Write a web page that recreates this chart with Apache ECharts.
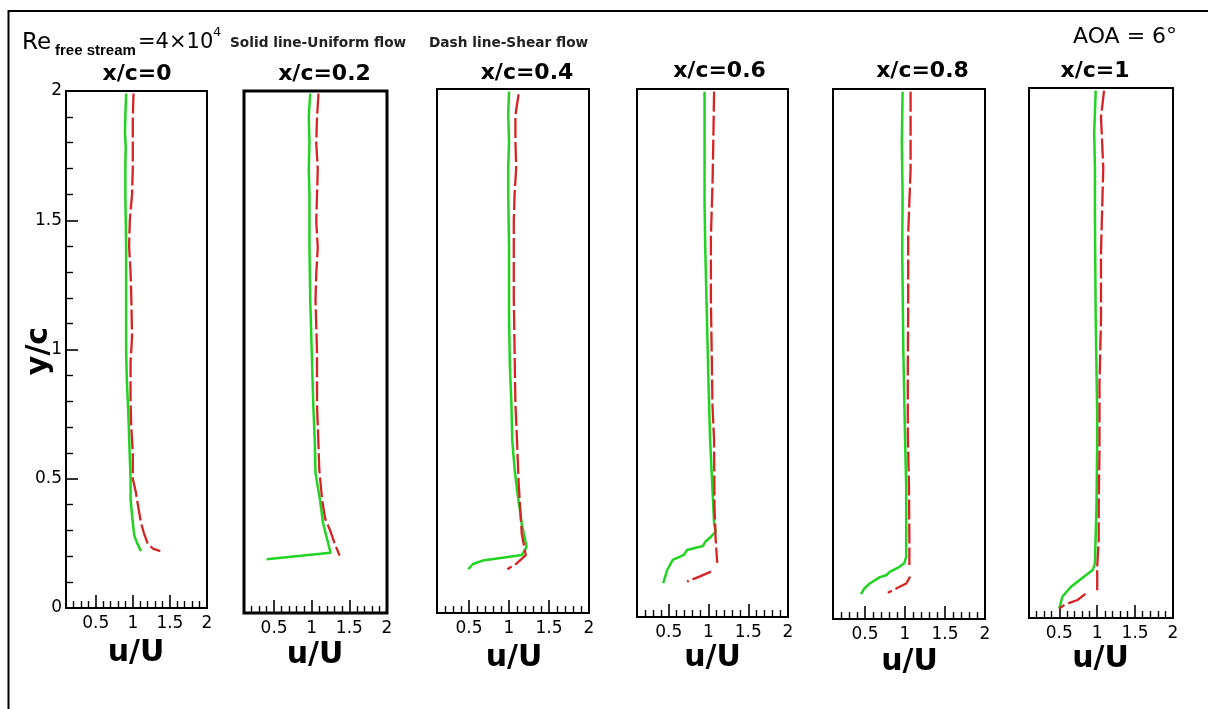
<!DOCTYPE html>
<html><head><meta charset="utf-8">
<script src="https://cdn.jsdelivr.net/npm/echarts@6/dist/echarts.min.js"></script>
<style>html,body{margin:0;padding:0;background:#fff}#c{width:1208px;height:709px}</style>
</head><body><div id="c"></div>
<script>
// ---------- data ----------
const panelTitles = ['x/c=0', 'x/c=0.2', 'x/c=0.4', 'x/c=0.6', 'x/c=0.8', 'x/c=1'];
const xMajorTicks = [0.5, 1, 1.5, 2];
const xMinorTicks = [0.2, 0.3, 0.4, 0.6, 0.7, 0.8, 0.9, 1.1, 1.2, 1.3, 1.4, 1.6, 1.7, 1.8, 1.9];

// [u/U, y/c]  solid line - uniform flow
const uniform0 = [[0.91,1.99],[0.90,1.90],[0.895,1.84],[0.905,1.78],[0.90,1.72],[0.90,1.6],[0.91,1.4],[0.91,1.2],[0.91,1.0],[0.92,0.88],[0.94,0.75],[0.96,0.58],[0.97,0.5],[0.97,0.42],[1.0,0.33],[1.02,0.28],[1.06,0.25],[1.11,0.22]];
const uniform02 = [[0.98,1.99],[0.96,1.9],[0.97,1.8],[0.96,1.7],[0.97,1.6],[0.97,1.4],[0.98,1.2],[1.0,1.0],[1.02,0.8],[1.04,0.663],[1.05,0.536],[1.11,0.433],[1.15,0.345],[1.25,0.231],[0.40,0.206]];
const uniform04 = [[1.0,1.99],[0.99,1.9],[1.0,1.8],[0.99,1.7],[0.99,1.6],[1.0,1.4],[1.0,1.15],[1.01,0.95],[1.03,0.8],[1.04,0.66],[1.07,0.55],[1.1,0.47],[1.16,0.34],[1.22,0.253],[1.16,0.221],[0.94,0.212],[0.67,0.2],[0.55,0.187],[0.49,0.167]];
const uniform06 = [[0.95,1.99],[0.95,1.8],[0.95,1.56],[0.96,1.38],[0.98,1.13],[1.0,0.88],[1.02,0.67],[1.05,0.48],[1.07,0.356],[1.09,0.323],[1.03,0.304],[0.96,0.285],[0.93,0.269],[0.73,0.254],[0.69,0.235],[0.55,0.216],[0.48,0.178],[0.43,0.128]];
const uniform08 = [[0.97,1.99],[0.96,1.8],[0.97,1.6],[0.965,1.385],[0.98,1.0],[1.0,0.69],[1.015,0.5],[1.015,0.234],[0.99,0.21],[0.93,0.197],[0.81,0.178],[0.77,0.166],[0.68,0.157],[0.56,0.134],[0.49,0.115],[0.45,0.094]];
const uniform1 = [[0.98,1.99],[0.96,1.83],[0.97,1.7],[0.97,1.51],[0.98,1.13],[1.0,0.76],[1.0,0.673],[0.99,0.42],[0.97,0.206],[0.94,0.181],[0.82,0.155],[0.65,0.117],[0.54,0.08],[0.5,0.036]];

// dash line - shear flow
const shear0 = [[1.01,1.99],[1.0,1.9],[1.0,1.7],[0.99,1.6],[0.96,1.5],[0.95,1.4],[0.97,1.3],[0.98,1.2],[0.99,1.05],[0.97,0.95],[0.97,0.8],[0.98,0.7],[1.0,0.6],[1.0,0.5],[1.04,0.45],[1.08,0.38],[1.11,0.33],[1.15,0.29],[1.2,0.25],[1.27,0.23],[1.37,0.22]];
const shear02 = [[1.09,1.99],[1.07,1.9],[1.06,1.8],[1.08,1.7],[1.07,1.6],[1.06,1.5],[1.08,1.4],[1.06,1.3],[1.05,1.2],[1.07,1.0],[1.07,0.8],[1.09,0.64],[1.1,0.55],[1.14,0.43],[1.18,0.36],[1.24,0.32],[1.3,0.27],[1.37,0.22]];
const shear04 = [[1.12,1.98],[1.08,1.9],[1.08,1.8],[1.09,1.7],[1.07,1.6],[1.06,1.5],[1.06,1.4],[1.06,1.2],[1.07,1.0],[1.08,0.8],[1.1,0.66],[1.12,0.5],[1.14,0.4],[1.16,0.3],[1.21,0.221],[1.1,0.19],[0.98,0.167]];
const shear06 = [[1.07,1.99],[1.06,1.8],[1.05,1.64],[1.03,1.44],[1.03,1.2],[1.04,1.0],[1.05,0.8],[1.07,0.67],[1.075,0.42],[1.09,0.29],[1.11,0.205],['-','-'],[1.03,0.172],[0.9,0.155],[0.73,0.134]];
const shear08 = [[1.07,1.99],[1.07,1.7],[1.04,1.45],[1.04,1.2],[1.035,0.95],[1.035,0.7],[1.05,0.5],[1.055,0.3],[1.055,0.204],['-','-'],[1.065,0.16],[1.015,0.134],[0.89,0.115],[0.785,0.099]];
const shear1 = [[1.09,1.99],[1.05,1.89],[1.08,1.7],[1.05,1.38],[1.05,1.13],[1.03,0.88],[1.03,0.63],[1.02,0.42],[1.02,0.294],[1.0,0.193],[1.0,0.105],['-','-'],[0.845,0.091],[0.74,0.068],[0.57,0.05],[0.5,0.036]];

const uniformSets = [uniform0, uniform02, uniform04, uniform06, uniform08, uniform1];
const shearSets = [shear0, shear02, shear04, shear06, shear08, shear1];

// ---------- layout ----------
const grids = [
  {left: 66, top: 91, width: 141, height: 517, bw: 2},
  {left: 244, top: 91, width: 143, height: 522, bw: 3},
  {left: 437, top: 89, width: 152, height: 524, bw: 2},
  {left: 637, top: 89, width: 151, height: 528, bw: 2},
  {left: 833, top: 89, width: 152, height: 530, bw: 2},
  {left: 1029, top: 88, width: 144, height: 530, bw: 2}
];
const titlePos = [[137, 74], [324.5, 74], [527, 73.5], [719.5, 71], [922.5, 71.5], [1095, 71.5]];
const namePos = [[136, 653], [315, 655.5], [514, 658.5], [712.5, 658.5], [909.5, 662], [1100.5, 659.5]];

const GREEN = '#22d322';
const RED = '#d42424';
const tickFont = 'DejaVu Sans';

const option = {
  animation: false,
  backgroundColor: '#fff',
  grid: [], xAxis: [], yAxis: [], series: [], graphic: []
};

grids.forEach((g, i) => {
  option.grid.push({left: g.left, top: g.top, width: g.width, height: g.height,
    show: true, borderColor: '#000', borderWidth: g.bw, backgroundColor: 'transparent', containLabel: false});
  option.xAxis.push({
    type: 'value', gridIndex: i, min: 0.1, max: 2, position: 'bottom', offset: 0,
    axisLine: {show: false},
    axisTick: {show: true, inside: true, length: 13, customValues: xMajorTicks, lineStyle: {color: '#000', width: 1.6}},
    axisLabel: {show: true, customValues: xMajorTicks, margin: 7, color: '#000', fontSize: 17, fontFamily: tickFont},
    splitLine: {show: false}
  });
  option.xAxis.push({
    type: 'value', gridIndex: i, min: 0.1, max: 2, position: 'bottom', offset: 0,
    axisLine: {show: false},
    axisTick: {show: true, inside: true, length: 7, customValues: xMinorTicks, lineStyle: {color: '#000', width: 1.4}},
    axisLabel: {show: false},
    splitLine: {show: false}
  });
  if (i === 0) {
    option.yAxis.push({
      type: 'value', gridIndex: i, min: 0, max: 2, interval: 0.5,
      axisLine: {show: false},
      axisTick: {show: true, inside: true, length: 12, lineStyle: {color: '#000', width: 1.6}},
      minorTick: {show: true, splitNumber: 5, length: 7, lineStyle: {color: '#000', width: 1.4}},
      axisLabel: {margin: 4, color: '#000', fontSize: 17, fontFamily: tickFont},
      splitLine: {show: false}, minorSplitLine: {show: false}
    });
  } else {
    option.yAxis.push({type: 'value', gridIndex: i, min: 0, max: 2, show: false, splitLine: {show: false}});
  }
  option.series.push({
    type: 'line', name: 'Uniform flow', xAxisIndex: 2 * i, yAxisIndex: i, data: uniformSets[i],
    showSymbol: false, symbol: 'none', connectNulls: false, z: 3,
    lineStyle: {color: GREEN, width: 2.5}
  });
  option.series.push({
    type: 'line', name: 'Shear flow', xAxisIndex: 2 * i, yAxisIndex: i, data: shearSets[i],
    showSymbol: false, symbol: 'none', connectNulls: false, z: 4,
    lineStyle: {color: RED, width: 2.3, type: [20, 4]}
  });
  option.graphic.push({type: 'text', x: titlePos[i][0], y: titlePos[i][1],
    style: {text: panelTitles[i], font: 'bold 22px "DejaVu Sans"', fill: '#000', textAlign: 'center', textVerticalAlign: 'middle'}});
  option.graphic.push({type: 'text', x: namePos[i][0], y: namePos[i][1],
    style: {text: 'u/U', font: 'bold 30px "DejaVu Sans"', fill: '#000', textAlign: 'center', textVerticalAlign: 'middle'}});
});

option.graphic.push(
  {type: 'rect', z: -10, shape: {x: 8.5, y: 11, width: 1400, height: 900}, style: {fill: 'none', stroke: '#000', lineWidth: 2}},
  {type: 'text', x: 22, y: 43, style: {text: 'Re', font: '23px "DejaVu Sans"', fill: '#000', textAlign: 'left', textVerticalAlign: 'middle'}},
  {type: 'text', x: 55, y: 51, style: {text: 'free stream', font: 'bold 15px "Liberation Sans"', fill: '#000', textAlign: 'left', textVerticalAlign: 'middle'}},
  {type: 'text', x: 138, y: 43, style: {text: '=4×10', font: '21px "DejaVu Sans"', fill: '#000', textAlign: 'left', textVerticalAlign: 'middle'}},
  {type: 'text', x: 213, y: 33, style: {text: '4', font: '13px "DejaVu Sans"', fill: '#000', textAlign: 'left', textVerticalAlign: 'middle'}},
  {type: 'text', x: 230, y: 43, style: {text: 'Solid line-Uniform flow', font: 'bold 13.7px "DejaVu Sans"', fill: '#222', textAlign: 'left', textVerticalAlign: 'middle'}},
  {type: 'text', x: 429, y: 43, style: {text: 'Dash line-Shear flow', font: 'bold 13.7px "DejaVu Sans"', fill: '#222', textAlign: 'left', textVerticalAlign: 'middle'}},
  {type: 'text', x: 1073, y: 37.5, style: {text: 'AOA = 6°', font: '22px "DejaVu Sans"', fill: '#000', textAlign: 'left', textVerticalAlign: 'middle'}},
  {type: 'text', x: 39, y: 351, rotation: Math.PI / 2, style: {text: 'y/c', font: 'bold 30px "DejaVu Sans"', fill: '#000', textAlign: 'center', textVerticalAlign: 'middle'}}
);

const chart = echarts.init(document.getElementById('c'), null, {renderer: 'canvas'});
chart.setOption(option);
</script></body></html>
